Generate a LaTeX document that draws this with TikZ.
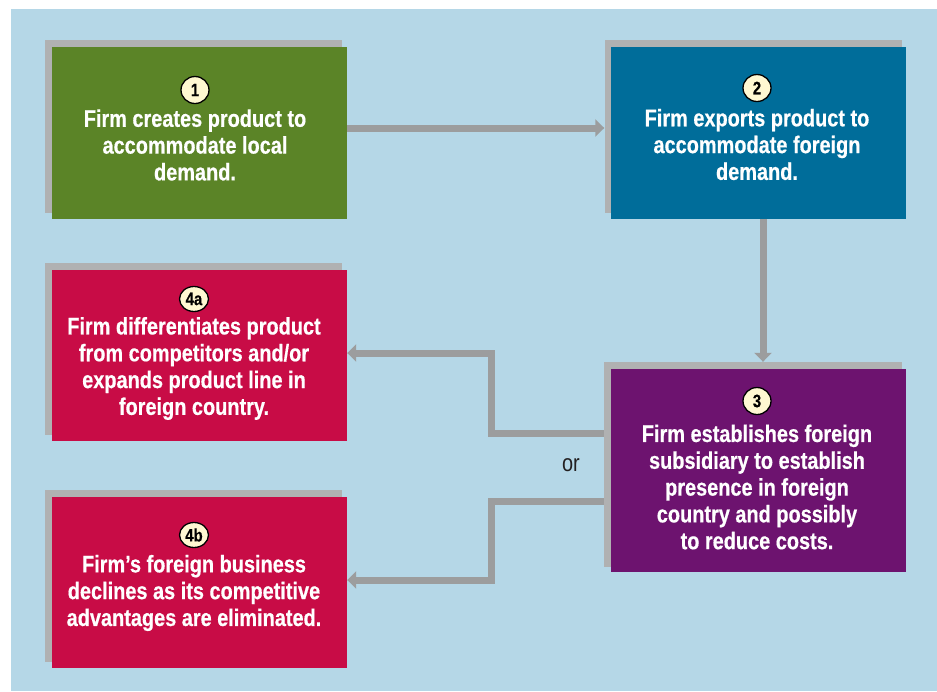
\documentclass[tikz,border=0pt]{standalone}
\usepackage{fontspec}
\setmainfont{Liberation Sans}
\newfontfamily\boxfont{Liberation Sans}[FakeStretch=0.83]
\newfontfamily\boxfontb{Liberation Sans Bold}[FakeStretch=0.83,FakeBold=0.5]
\usetikzlibrary{arrows.meta,shapes.geometric}
\definecolor{panel}{HTML}{B5D7E7}
\definecolor{shadowc}{HTML}{B0B1B2}
\definecolor{arrowc}{HTML}{9C9D9E}
\definecolor{greenbox}{HTML}{5B8427}
\definecolor{bluebox}{HTML}{006D9A}
\definecolor{purplebox}{HTML}{6D136F}
\definecolor{redbox}{HTML}{C80C46}
\definecolor{cream}{HTML}{FFF8D2}
\definecolor{ortext}{HTML}{231F20}
\begin{document}
\begin{tikzpicture}[x=1pt,y=-1pt,
  shadowbox/.style={fill=shadowc, inner sep=0pt, minimum width=297pt, minimum height=173pt},
  mainbox/.style={inner sep=0pt, minimum width=295pt, minimum height=172pt},
  boxtext/.style={text=white, align=center, inner sep=0pt, font=\boxfontb\fontsize{24}{26.8}\selectfont},
  numbadge/.style={ellipse, draw=black, line width=1.3pt, fill=cream, inner sep=0pt, minimum width=28pt, minimum height=27pt, font=\boxfontb\fontsize{18}{18}\selectfont},
  conn/.style={draw=arrowc, line width=7pt, line join=miter, -{Triangle[width=17pt,length=9pt]}}
]
\useasboundingbox (0,0) rectangle (937,691);
\fill[panel] (11,9) rectangle (937,691);

% shadows
\node[shadowbox] (s1) at (193.5,126.5) {};
\node[shadowbox] (s2) at (753,126.5) {};
\node[shadowbox, minimum width=298pt, minimum height=205pt] (s3) at (753,464.5) {};
\node[shadowbox, minimum height=172pt] (s4a) at (193.5,349) {};
\node[shadowbox, minimum height=172pt] (s4b) at (193.5,576) {};

% boxes
\node[mainbox, fill=greenbox] (b1) at (199.5,133) {};
\node[mainbox, fill=bluebox] (b2) at (758.5,133) {};
\node[mainbox, fill=purplebox, minimum height=203pt] (b3) at (758.5,470.5) {};
\node[mainbox, fill=redbox, minimum height=171pt] (b4a) at (199.5,355.5) {};
\node[mainbox, fill=redbox, minimum height=171pt] (b4b) at (199.5,582.5) {};

% texts
\node[boxtext] (t1) at (195,145) {Firm creates product to\\accommodate local\\demand.};
\node[numbadge] (c1) at (195,90) {1};
\node[boxtext] (t2) at (757,144.5) {Firm exports product to\\accommodate foreign\\demand.};
\node[numbadge] (c2) at (757,88) {2};
\node[boxtext] (t3) at (757,487) {Firm establishes foreign\\subsidiary to establish\\presence in foreign\\country and possibly\\to reduce costs.};
\node[numbadge] (c3) at (757,401) {3};
\node[boxtext] (t4a) at (194,368.5) {Firm differentiates product\\from competitors and/or\\expands product line in\\foreign country.};
\node[numbadge, minimum width=29pt, minimum height=25pt] (c4a) at (194,299) {4a};
\node[boxtext] (t4b) at (194,593) {Firm’s foreign business\\declines as its competitive\\advantages are eliminated.};
\node[numbadge, minimum width=29pt, minimum height=25pt] (c4b) at (194,535) {4b};

\node[text=ortext, inner sep=0pt, font=\boxfont\fontsize{24}{26}\selectfont] (or) at (571,465) {or};

% connectors
\draw[conn] ([yshift=5pt]b1.east) -- ([yshift=5pt]b1.east -| s2.west);
\draw[conn] ([xshift=4.5pt]b2.south) -- ([xshift=4.5pt]b2.south |- s3.north);
\draw[conn] ([yshift=31.5pt]s3.west) -- ++(-112,0) |- ([yshift=2.5pt]b4a.east);
\draw[conn] ([yshift=-36.5pt]s3.west) -- ++(-112,0) |- ([yshift=2.5pt]b4b.east);
\end{tikzpicture}
\end{document}
